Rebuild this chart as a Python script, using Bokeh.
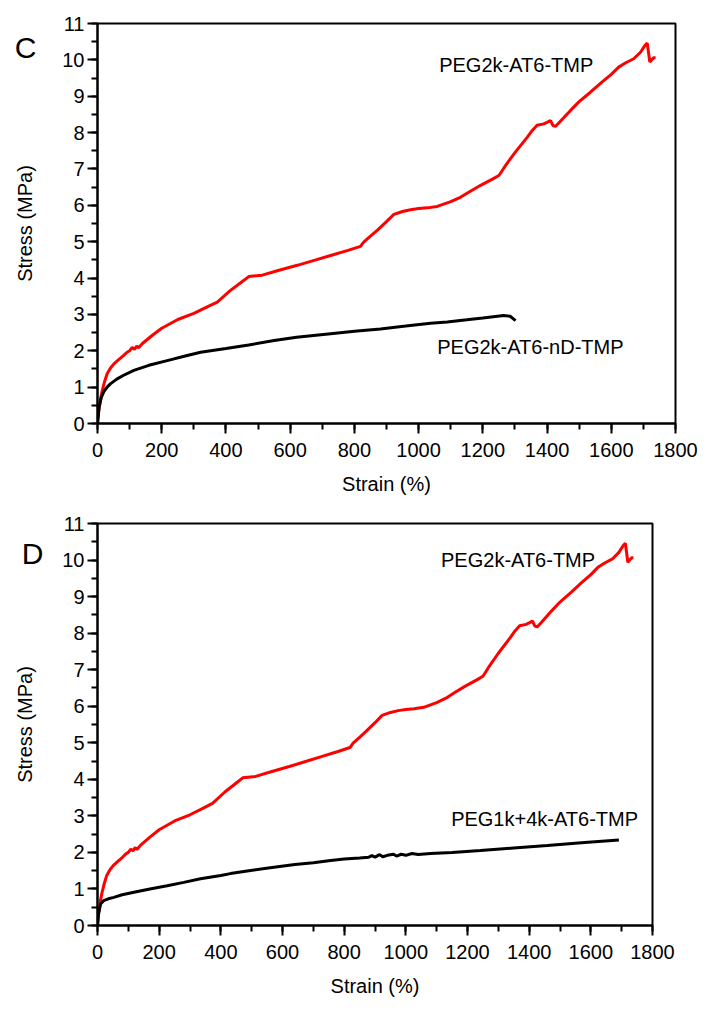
from bokeh.plotting import figure
from bokeh.models import Range1d, SingleIntervalTicker, FixedTicker, Label, LinearAxis
from bokeh.embed import file_html
from bokeh.resources import INLINE

# ---- data ----
red_strain = [0, 4, 10, 15, 22, 30, 40, 51, 65, 80, 92, 100, 108, 115, 122, 128, 140, 170, 200, 250,
              300, 340, 373, 414, 450, 471, 513, 560, 622, 680, 726, 780, 819, 829, 850, 871, 900, 923,
              950, 975, 1000, 1027, 1058, 1100, 1130, 1160, 1193, 1230, 1250, 1260, 1271, 1300, 1338,
              1354, 1369, 1390, 1400, 1411, 1418, 1426, 1440, 1473, 1500, 1535, 1570, 1600, 1623, 1645,
              1670, 1691, 1705, 1712, 1716, 1720, 1726, 1732, 1738]
red_stress = [0, 0.36, 0.7, 0.91, 1.15, 1.37, 1.52, 1.64, 1.75, 1.86, 1.96, 2.0, 2.09, 2.04, 2.13, 2.08,
              2.2, 2.42, 2.62, 2.86, 3.03, 3.2, 3.34, 3.66, 3.9, 4.04, 4.08, 4.2, 4.35, 4.5, 4.62, 4.76,
              4.87, 4.99, 5.15, 5.31, 5.55, 5.75, 5.83, 5.88, 5.91, 5.93, 5.97, 6.1, 6.22, 6.38, 6.55,
              6.72, 6.82, 6.95, 7.1, 7.45, 7.87, 8.06, 8.2, 8.24, 8.28, 8.33, 8.2, 8.17, 8.3, 8.61, 8.85,
              9.11, 9.38, 9.6, 9.8, 9.92, 10.03, 10.21, 10.4, 10.46, 10.2, 9.94, 10.0, 10.06, 10.06]

nd_strain = [0, 5, 12, 20, 30, 40, 60, 80, 113, 160, 217, 270, 321, 400, 471, 550, 620, 726, 800, 881,
             960, 1037, 1089, 1150, 1200, 1265, 1285, 1302]
nd_stress = [0, 0.45, 0.72, 0.88, 1.0, 1.09, 1.22, 1.32, 1.46, 1.6, 1.73, 1.85, 1.96, 2.06, 2.16, 2.28,
             2.37, 2.47, 2.54, 2.6, 2.68, 2.76, 2.79, 2.85, 2.9, 2.97, 2.95, 2.83]

mix_strain = [0, 3, 10, 20, 35, 53, 80, 118, 170, 226, 280, 334, 400, 431, 491, 560, 640, 700, 756, 800,
              850, 880, 890, 900, 915, 925, 940, 960, 970, 985, 1000, 1020, 1040, 1080, 1150, 1242, 1350,
              1459, 1580, 1691]
mix_stress = [0, 0.3, 0.59, 0.68, 0.73, 0.77, 0.84, 0.91, 1.0, 1.09, 1.18, 1.28, 1.37, 1.42, 1.5, 1.58,
              1.67, 1.72, 1.78, 1.82, 1.85, 1.87, 1.91, 1.87, 1.94, 1.88, 1.92, 1.95, 1.9, 1.95, 1.92,
              1.97, 1.94, 1.97, 2.0, 2.05, 2.12, 2.19, 2.27, 2.34]

x_ticks_interval = 200
y_ticks_interval = 1

FONT = "Liberation Sans"


def style_axis(ax):
    ax.axis_line_width = 2
    ax.axis_line_color = "black"
    ax.major_tick_line_width = 2
    ax.minor_tick_line_width = 2
    ax.major_tick_line_color = "black"
    ax.minor_tick_line_color = "black"
    ax.major_tick_in = 0
    ax.major_tick_out = 10
    ax.minor_tick_in = 0
    ax.minor_tick_out = 6
    ax.major_label_text_font = FONT
    ax.major_label_text_font_size = "20px"
    ax.major_label_text_color = "black"
    ax.axis_label_text_font = FONT
    ax.axis_label_text_font_size = "20px"
    ax.axis_label_text_font_style = "normal"
    ax.axis_label_text_color = "black"


def make_fig(height, border_top, border_right, border_bottom, letter, letter_y, letter_standoff,
             ylabel_standoff):
    p = figure(width=714, height=height, output_backend="svg", toolbar_location=None,
               x_range=Range1d(0, 1800), y_range=Range1d(0, 11), y_axis_location=None,
               min_border_left=97, min_border_right=border_right,
               min_border_top=border_top, min_border_bottom=border_bottom)
    p.xgrid.visible = False
    p.ygrid.visible = False
    p.outline_line_color = "black"
    p.outline_line_width = 2
    p.outline_line_alpha = 1
    p.background_fill_color = "white"
    p.border_fill_color = "white"

    p.xaxis.ticker = SingleIntervalTicker(interval=x_ticks_interval, num_minor_ticks=2)
    style_axis(p.xaxis[0])
    p.xaxis.axis_label = "Strain (%)"
    p.xaxis.major_label_standoff = 9
    p.xaxis.axis_label_standoff = 13

    yax = LinearAxis(ticker=SingleIntervalTicker(interval=y_ticks_interval, num_minor_ticks=2))
    style_axis(yax)
    yax.major_label_standoff = 3
    p.add_layout(yax, "left")

    # outer axis carrying the panel letter and the axis title
    lax = LinearAxis(ticker=FixedTicker(ticks=[letter_y]), major_label_overrides={letter_y: letter})
    style_axis(lax)
    lax.axis_line_color = None
    lax.major_tick_line_color = None
    lax.minor_tick_line_color = None
    lax.major_tick_out = 0
    lax.minor_tick_out = 0
    lax.major_label_text_font_size = "30px"
    lax.major_label_standoff = letter_standoff
    lax.axis_label = "Stress (MPa)"
    lax.axis_label_standoff = ylabel_standoff
    p.add_layout(lax, "left")
    return p


p1 = make_fig(500, 23, 39, 77, "C", 10.34, 23, -24)
p1.line(red_strain, red_stress, line_color="#ff0000", line_width=3)
p1.line(nd_strain, nd_stress, line_color="black", line_width=3)
p1.add_layout(Label(x=1304, y=9.85, text="PEG2k-AT6-TMP", text_align="center", text_baseline="middle",
                    text_font=FONT, text_font_size="20px", text_color="black"))
p1.add_layout(Label(x=1348, y=2.1, text="PEG2k-AT6-nD-TMP", text_align="center", text_baseline="middle",
                    text_font=FONT, text_font_size="20px", text_color="black"))

p2 = make_fig(500, 23, 62, 75, "D", 10.18, 16, -17)
p2.line(red_strain, red_stress, line_color="#ff0000", line_width=3)
p2.line(mix_strain, mix_stress, line_color="black", line_width=3)
p2.add_layout(Label(x=1364, y=10.0, text="PEG2k-AT6-TMP", text_align="center", text_baseline="middle",
                    text_font=FONT, text_font_size="20px", text_color="black"))
p2.add_layout(Label(x=1450, y=2.92, text="PEG1k+4k-AT6-TMP", text_align="center", text_baseline="middle",
                    text_font=FONT, text_font_size="20px", text_color="black"))

open("out.html", "w").write(file_html([p1, p2], INLINE))
